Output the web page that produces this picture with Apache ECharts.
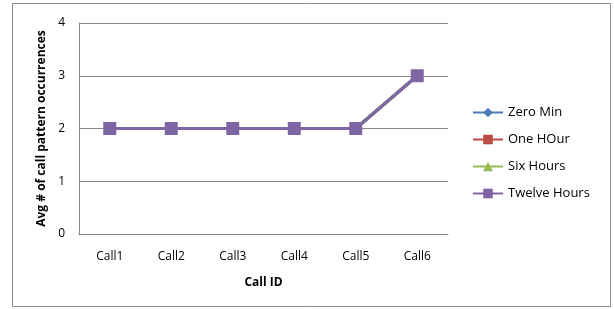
<!DOCTYPE html>
<html>
<head>
<meta charset="utf-8">
<script src="https://cdn.jsdelivr.net/npm/echarts@6/dist/echarts.min.js"></script>
<style>
  html, body { margin: 0; padding: 0; background: #fff; }
  #chart { width: 614px; height: 309px; }
</style>
</head>
<body>
<div id="chart"></div>
<script>
// categories and values
var callIds = ['Call1', 'Call2', 'Call3', 'Call4', 'Call5', 'Call6'];
var zeroMin = [2, 2, 2, 2, 2, 3];
var oneHour = [2, 2, 2, 2, 2, 3];
var sixHours = [2, 2, 2, 2, 2, 3];
var twelveHours = [2, 2, 2, 2, 2, 3];
var yTicks = [0, 1, 2, 3, 4];

var font = 'Open Sans, Liberation Sans, sans-serif';

function makeSeries(name, data, color, symbol, size) {
    return {
        name: name,
        type: 'line',
        data: data,
        symbol: symbol,
        symbolSize: size,
        lineStyle: { color: color, width: 3 },
        itemStyle: { color: color },
        emphasis: { disabled: true },
        animation: false
    };
}

var chart = echarts.init(document.getElementById('chart'));
chart.setOption({
    backgroundColor: '#fff',
    animation: false,
    textStyle: { fontFamily: font },
    graphic: [{
        type: 'rect',
        shape: { x: 12.5, y: 3.5, width: 598, height: 303 },
        style: { fill: 'none', stroke: '#8c8c8c', lineWidth: 1 }
    }],
    grid: { left: 79, top: 23, width: 369, height: 211 },
    legend: {
        orient: 'vertical',
        left: 467,
        top: 101,
        itemGap: 14,
        itemWidth: 30,
        itemHeight: 12,
        textStyle: { fontSize: 13, color: '#000', fontFamily: font },
        data: ['Zero Min', 'One HOur', 'Six Hours', 'Twelve Hours']
    },
    xAxis: {
        type: 'category',
        data: callIds,
        boundaryGap: true,
        name: 'Call ID',
        nameLocation: 'middle',
        nameGap: 43,
        nameTextStyle: { fontWeight: 'bold', fontSize: 12, color: '#000' },
        axisLine: { lineStyle: { color: '#868686', width: 1 } },
        axisTick: { show: false },
        axisLabel: { margin: 17, fontSize: 12, color: '#000' }
    },
    yAxis: {
        type: 'value',
        min: yTicks[0],
        max: yTicks[yTicks.length - 1],
        interval: 1,
        name: 'Avg # of call pattern occurrences',
        nameLocation: 'middle',
        nameGap: 28,
        nameTextStyle: { fontWeight: 'bold', fontSize: 12, color: '#000' },
        axisLine: { show: true, lineStyle: { color: '#868686', width: 1 } },
        axisTick: { show: false },
        axisLabel: { margin: 14, fontSize: 12, color: '#000' },
        splitLine: { lineStyle: { color: '#868686', width: 1 } }
    },
    series: [
        makeSeries('Zero Min', zeroMin, '#4a7ebb', 'diamond', 10),
        makeSeries('One HOur', oneHour, '#be4b48', 'rect', 10),
        makeSeries('Six Hours', sixHours, '#98b954', 'triangle', 10),
        makeSeries('Twelve Hours', twelveHours, '#7e66a4', 'rect', 13)
    ]
});
</script>
</body>
</html>
